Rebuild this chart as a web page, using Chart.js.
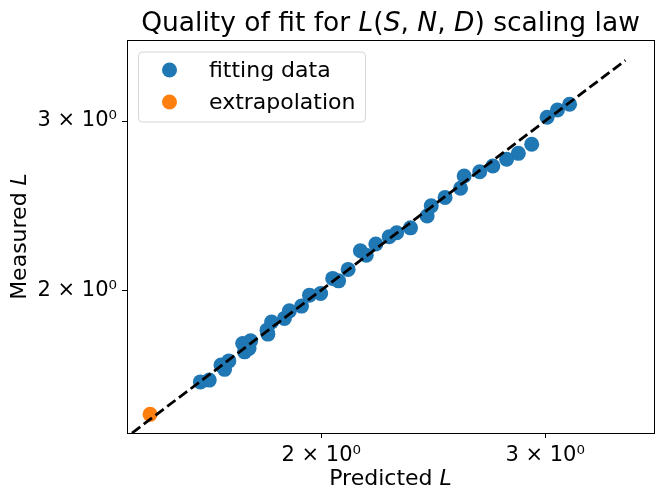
<!DOCTYPE html>
<html>
<head>
<meta charset="utf-8">
<script src="https://cdn.jsdelivr.net/npm/chart.js@4.4.1/dist/chart.umd.min.js"></script>
<style>
  html, body { margin: 0; padding: 0; background: #fff; }
  #wrap { width: 665px; height: 501px; }
</style>
</head>
<body>
<div id="wrap"><canvas id="fitChart" width="665" height="501"></canvas></div>
<script>
// values
const predicted = [1.607, 1.633, 1.668, 1.679, 1.692, 1.735, 1.741, 1.760, 1.755, 1.813,
  1.816, 1.828, 1.871, 1.888, 1.930, 1.958, 1.998, 2.042, 2.064, 2.100,
  2.147, 2.170, 2.208, 2.262, 2.293, 2.351, 2.423, 2.441, 2.503, 2.574,
  2.591, 2.665, 2.729, 2.798, 2.858, 2.928, 3.011, 3.068, 3.136];
const measured = [1.605, 1.612, 1.671, 1.654, 1.688, 1.760, 1.725, 1.771, 1.739, 1.817,
  1.800, 1.853, 1.869, 1.903, 1.925, 1.976, 1.984, 2.057, 2.045, 2.102,
  2.198, 2.175, 2.234, 2.273, 2.295, 2.322, 2.389, 2.448, 2.498, 2.553,
  2.629, 2.656, 2.693, 2.737, 2.776, 2.837, 3.027, 3.080, 3.123];
const extrapPredicted = [1.467];
const extrapMeasured = [1.485];
const identityLine = [1.39, 3.47];
const xTicks = [2, 3];
const yTicks = [2, 3];
const xRange = [1.407, 3.654];
const yRange = [1.42, 3.643];

const BLUE = "#1f77b4";
const ORANGE = "#ff7f0e";
const FONT = '"DejaVu Sans", "Liberation Sans", sans-serif';

// draw a run of text pieces, some italic (matplotlib mathtext look)
function drawRich(ctx, parts, x, y, size, rotate) {
  ctx.save();
  ctx.translate(x, y);
  if (rotate) ctx.rotate(-Math.PI / 2);
  ctx.fillStyle = "#000";
  ctx.textBaseline = "alphabetic";
  ctx.textAlign = "left";
  let total = 0;
  const widths = parts.map((p) => {
    ctx.font = (p.i ? "italic " : "") + size + "px " + FONT;
    const w = ctx.measureText(p.t).width;
    total += w;
    return w;
  });
  let cx = -total / 2;
  parts.forEach((p, k) => {
    ctx.font = (p.i ? "italic " : "") + size + "px " + FONT;
    ctx.fillText(p.t, cx, 0);
    cx += widths[k];
  });
  ctx.restore();
}

const decorPlugin = {
  id: "decor",
  afterDraw(chart) {
    const ctx = chart.ctx;
    const a = chart.chartArea;
    const midX = (a.left + a.right) / 2;
    const midY = (a.top + a.bottom) / 2;
    drawRich(ctx, [
      { t: "Quality of fit for " }, { t: "L", i: true }, { t: "(" }, { t: "S", i: true },
      { t: ", " }, { t: "N", i: true }, { t: ", " }, { t: "D", i: true }, { t: ")" },
      { t: " scaling law" },
    ], midX, 31, 26.5, false);
    drawRich(ctx, [{ t: "Predicted " }, { t: "L", i: true }], midX, 485, 22, false);
    drawRich(ctx, [{ t: "Measured " }, { t: "L", i: true }], 26, midY, 22, true);

    // legend box
    ctx.save();
    const lx = 138.5, ly = 52, lw = 227, lh = 70, r = 4;
    ctx.beginPath();
    ctx.moveTo(lx + r, ly);
    ctx.arcTo(lx + lw, ly, lx + lw, ly + lh, r);
    ctx.arcTo(lx + lw, ly + lh, lx, ly + lh, r);
    ctx.arcTo(lx, ly + lh, lx, ly, r);
    ctx.arcTo(lx, ly, lx + lw, ly, r);
    ctx.closePath();
    ctx.fillStyle = "rgba(255,255,255,0.8)";
    ctx.fill();
    ctx.strokeStyle = "#d6d6d6";
    ctx.lineWidth = 1;
    ctx.stroke();
    const entries = [
      { label: "fitting data", color: BLUE, y: 70 },
      { label: "extrapolation", color: ORANGE, y: 102 },
    ];
    entries.forEach((e) => {
      ctx.beginPath();
      ctx.arc(169.5, e.y, 7.5, 0, Math.PI * 2);
      ctx.fillStyle = e.color;
      ctx.fill();
      ctx.fillStyle = "#000";
      ctx.font = "22px " + FONT;
      ctx.textBaseline = "middle";
      ctx.fillText(e.label, 209, e.y + 1);
    });
    ctx.restore();
  },
};

function logAxis(range, ticks, sizeFit) {
  return {
    type: "logarithmic",
    min: range[0],
    max: range[1],
    afterBuildTicks: (s) => { s.ticks = ticks.map((v) => ({ value: v })); },
    afterFit: sizeFit,
    grid: { drawOnChartArea: false, drawTicks: true, tickLength: 5, tickColor: "#000", tickWidth: 1 },
    border: { display: true, color: "#000", width: 1 },
    ticks: {
      autoSkip: false,
      maxRotation: 0,
      padding: 5,
      color: "#000",
      font: { family: FONT, size: 21 },
      callback: (v) => v + " \u00d7 10\u2070",
    },
  };
}

// plain axis used only for the top and right spines
function spineAxis(range, position, axis) {
  return {
    type: "logarithmic",
    position: position,
    axis: axis,
    min: range[0],
    max: range[1],
    afterBuildTicks: (s) => { s.ticks = []; },
    afterFit: (s) => { if (axis === "x") s.height = 0; else s.width = 0; },
    grid: { drawOnChartArea: false, drawTicks: false },
    border: { display: true, color: "#000", width: 1 },
    ticks: { display: false },
  };
}

new Chart(document.getElementById("fitChart"), {
  data: {
    datasets: [
      {
        type: "line",
        label: "y = x",
        data: identityLine.map((v) => ({ x: v, y: v })),
        borderColor: "#000",
        borderWidth: 2.8,
        borderDash: [10.3, 4.4],
        pointRadius: 0,
        fill: false,
      },
      {
        type: "scatter",
        label: "fitting data",
        data: predicted.map((p, k) => ({ x: p, y: measured[k] })),
        backgroundColor: BLUE,
        borderWidth: 0,
        pointRadius: 7.5,
        pointHoverRadius: 7.5,
      },
      {
        type: "scatter",
        label: "extrapolation",
        data: extrapPredicted.map((p, k) => ({ x: p, y: extrapMeasured[k] })),
        backgroundColor: ORANGE,
        borderWidth: 0,
        pointRadius: 7.5,
        pointHoverRadius: 7.5,
      },
    ],
  },
  options: {
    responsive: false,
    animation: false,
    layout: { padding: { top: 40, right: 11, left: 0, bottom: 0 } },
    plugins: { legend: { display: false }, title: { display: false }, tooltip: { enabled: false } },
    scales: {
      x: logAxis(xRange, xTicks, (s) => { s.height = 68; }),
      y: logAxis(yRange, yTicks, (s) => { s.width = 127; }),
      xTop: spineAxis(xRange, "top", "x"),
      yRight: spineAxis(yRange, "right", "y"),
    },
  },
  plugins: [decorPlugin],
});
</script>
</body>
</html>
